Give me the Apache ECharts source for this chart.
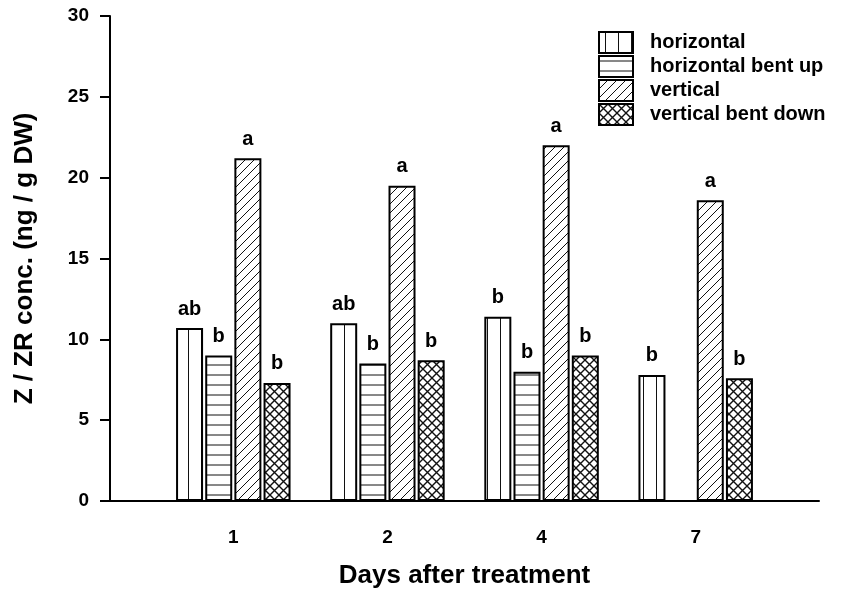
<!DOCTYPE html>
<html lang="en">
<head>
<meta charset="UTF-8">
<style>
    html,
    body {
        height: 100%;
        margin: 0;
        background: #fff;
    }
</style>
</head>
<body>
<div id="chart" style="width:846px;height:599px;"></div>
<script src="https://cdn.jsdelivr.net/npm/echarts@6/dist/echarts.min.js"></script>
<script>
    // values (ng / g DW)
    var days = ['1', '2', '4', '7'];
    var horizontal = [10.7, 11.0, 11.4, 7.8];
    var horizontalBentUp = [9.0, 8.5, 8.0, null];
    var vertical = [21.2, 19.5, 22.0, 18.6];
    var verticalBentDown = [7.3, 8.7, 9.0, 7.6];

    // significance letters above bars
    var lettersH = ['ab', 'ab', 'b', 'b'];
    var lettersHB = ['b', 'b', 'b', ''];
    var lettersV = ['a', 'a', 'a', 'a'];
    var lettersVB = ['b', 'b', 'b', 'b'];

    var yTicks = [0, 5, 10, 15, 20, 25, 30];

    var FONT = 'Liberation Sans, Arial, sans-serif';

    // hatch fills drawn on small canvases
    function hatch(kind) {
        var c = document.createElement('canvas');
        var s = kind === 'vlines' ? 13 : (kind === 'hlines' ? 10 : 9);
        c.width = s;
        c.height = s;
        var g = c.getContext('2d');
        g.fillStyle = '#fff';
        g.fillRect(0, 0, s, s);
        g.strokeStyle = '#111';
        g.lineWidth = 1;
        g.beginPath();
        if (kind === 'vlines') {
            g.moveTo(s / 2, 0); g.lineTo(s / 2, s);
        } else if (kind === 'hlines') {
            g.moveTo(0, s / 2); g.lineTo(s, s / 2);
        } else if (kind === 'diag') {
            g.moveTo(-1, s + 1); g.lineTo(s + 1, -1);
            g.moveTo(-1, 1); g.lineTo(1, -1);
            g.moveTo(s - 1, s + 1); g.lineTo(s + 1, s - 1);
        } else {
            g.lineWidth = 1.4;
            g.moveTo(-1, s + 1); g.lineTo(s + 1, -1);
            g.moveTo(-1, -1); g.lineTo(s + 1, s + 1);
        }
        g.stroke();
        return { image: c, repeat: 'repeat' };
    }

    function toPoints(vals) {
        return vals.map(function (v, i) { return [i, v == null ? '-' : v]; });
    }

    function barSeries(name, vals, letters, fill) {
        return {
            name: name,
            type: 'bar',
            barWidth: 27,
            barGap: '8%',
            data: toPoints(vals),
            itemStyle: { color: fill, borderColor: '#000', borderWidth: 2 },
            label: {
                show: true,
                position: 'top',
                distance: 9,
                color: '#000',
                fontFamily: FONT,
                fontWeight: 'bold',
                fontSize: 20,
                formatter: function (p) { return letters[p.dataIndex]; }
            }
        };
    }

    var myChart = echarts.init(document.getElementById('chart'));
    myChart.setOption({
        animation: false,
        grid: { left: 110, right: 27, top: 16, bottom: 98 },
        legend: {
            orient: 'vertical',
            left: 598,
            top: 31,
            padding: 0,
            icon: 'rect',
            itemWidth: 34,
            itemHeight: 21,
            itemGap: 1,
            textStyle: {
                fontFamily: FONT, fontWeight: 'bold', fontSize: 20, color: '#000',
                lineHeight: 21,
                padding: [0, 0, 0, 12]
            },
            data: ['horizontal', 'horizontal bent up', 'vertical', 'vertical bent down']
        },
        xAxis: {
            type: 'value',
            min: -0.8,
            max: 3.8,
            name: 'Days after treatment',
            nameLocation: 'middle',
            nameGap: 62,
            nameTextStyle: { fontFamily: FONT, fontWeight: 'bold', fontSize: 26, color: '#000' },
            axisLine: { lineStyle: { color: '#000', width: 2 } },
            axisTick: { show: false },
            splitLine: { show: false },
            axisLabel: {
                customValues: [0, 1, 2, 3],
                formatter: function (v) { return days[Math.round(v)]; },
                margin: 27,
                color: '#000',
                fontFamily: FONT,
                fontWeight: 'bold',
                fontSize: 19
            }
        },
        yAxis: {
            type: 'value',
            min: yTicks[0],
            max: yTicks[yTicks.length - 1],
            interval: 5,
            name: 'Z / ZR conc. (ng / g DW)',
            nameLocation: 'middle',
            nameGap: 72,
            nameTextStyle: {
                fontFamily: FONT, fontWeight: 'bold', fontSize: 26, color: '#000'
            },
            axisLine: { show: true, onZero: false, lineStyle: { color: '#000', width: 2 } },
            axisTick: { show: true, length: 10, lineStyle: { color: '#000', width: 2 } },
            splitLine: { show: false },
            axisLabel: {
                margin: 21,
                color: '#000',
                fontFamily: FONT,
                fontWeight: 'bold',
                fontSize: 19
            }
        },
        series: [
            barSeries('horizontal', horizontal, lettersH, hatch('vlines')),
            barSeries('horizontal bent up', horizontalBentUp, lettersHB, hatch('hlines')),
            barSeries('vertical', vertical, lettersV, hatch('diag')),
            barSeries('vertical bent down', verticalBentDown, lettersVB, hatch('cross'))
        ]
    });
</script>
</body>
</html>
